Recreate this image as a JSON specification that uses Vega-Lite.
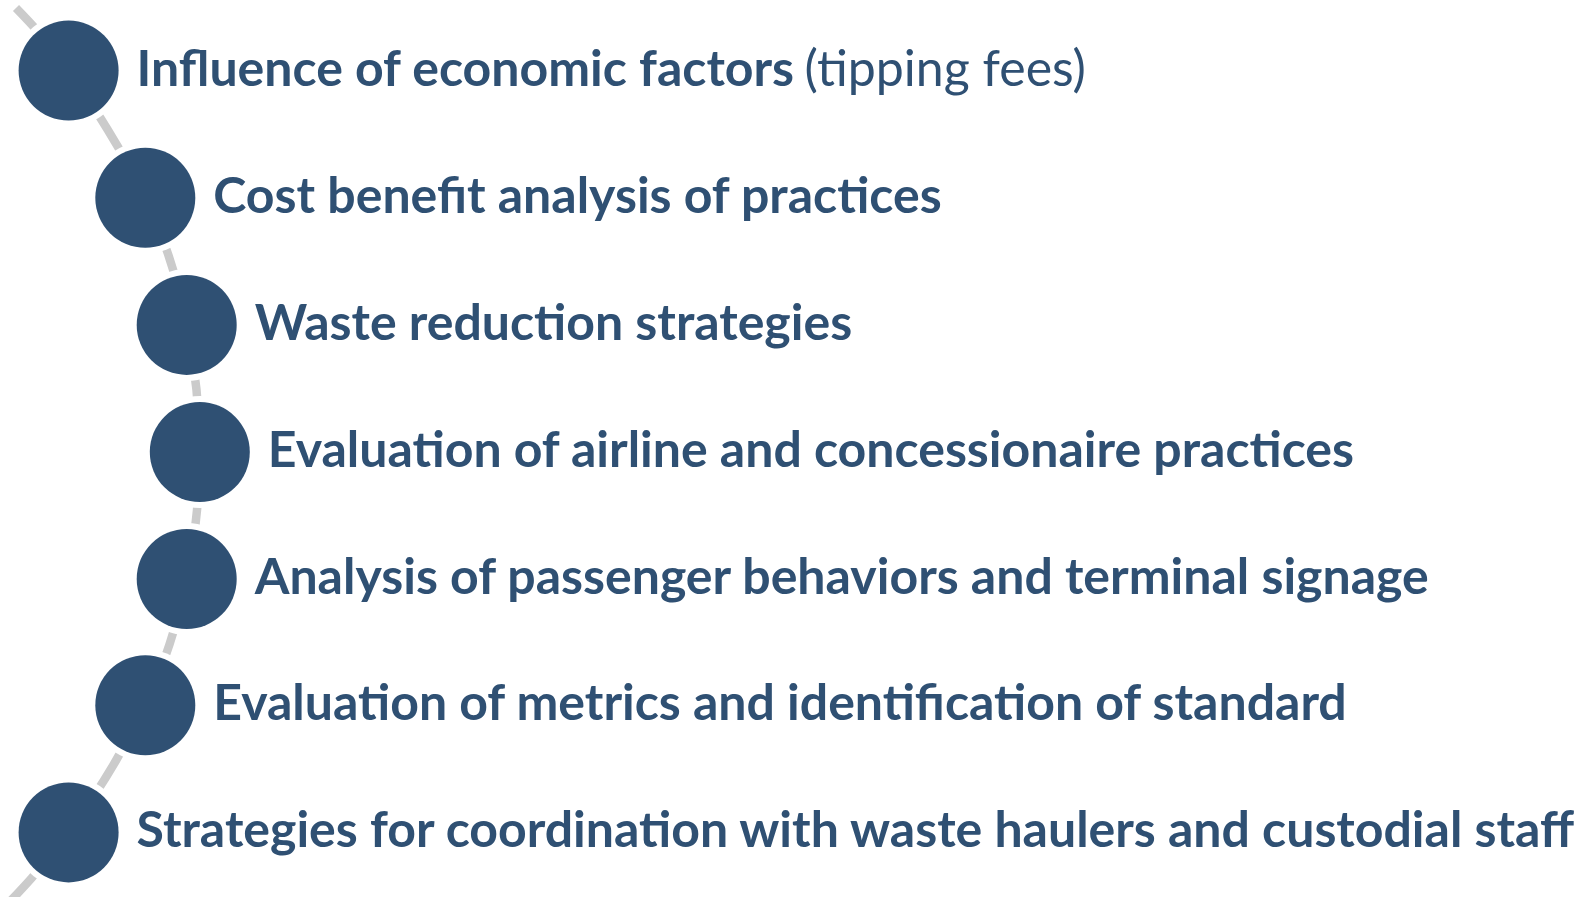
{
  "$schema": "https://vega.github.io/schema/vega-lite/v6.json",
  "width": 1582,
  "height": 897,
  "autosize": {"type": "none"},
  "padding": 0,
  "background": "white",
  "config": {"view": {"stroke": null}},
  "datasets": {
    "path": [
      {"x": 16, "y": 8},
      {"x": 68.6, "y": 70.6},
      {"x": 145.3, "y": 197.8},
      {"x": 186.7, "y": 324.9},
      {"x": 199.8, "y": 452.0},
      {"x": 186.7, "y": 579.0},
      {"x": 145.3, "y": 705.2},
      {"x": 68.6, "y": 832.4},
      {"x": -3, "y": 915}
    ],
    "steps": [
      {"step": 1, "x": 68.6, "y": 70.6, "label": "Influence of economic factors", "note": "(tipping fees)"},
      {"step": 2, "x": 145.3, "y": 197.8, "label": "Cost benefit analysis of practices", "note": ""},
      {"step": 3, "x": 186.7, "y": 324.9, "label": "Waste reduction strategies", "note": ""},
      {"step": 4, "x": 199.8, "y": 452.0, "label": "Evaluation of airline and concessionaire practices", "note": ""},
      {"step": 5, "x": 186.7, "y": 579.0, "label": "Analysis of passenger behaviors and terminal signage", "note": ""},
      {"step": 6, "x": 145.3, "y": 705.2, "label": "Evaluation of metrics and identification of standard", "note": ""},
      {"step": 7, "x": 68.6, "y": 832.4, "label": "Strategies for coordination with waste haulers and custodial staff", "note": ""}
    ]
  },
  "encoding": {
    "x": {"field": "x", "type": "quantitative", "scale": {"domain": [0, 1582], "nice": false, "zero": false}, "axis": null},
    "y": {"field": "y", "type": "quantitative", "scale": {"domain": [0, 897], "nice": false, "zero": false, "reverse": true}, "axis": null}
  },
  "layer": [
    {
      "data": {"name": "path"},
      "mark": {"type": "line", "interpolate": "natural", "stroke": "#CBCBCB", "strokeWidth": 8.5, "strokeCap": "butt", "clip": true},
      "encoding": {"order": {"field": "y", "type": "quantitative"}}
    },
    {
      "data": {"name": "steps"},
      "mark": {"type": "point", "shape": "circle", "filled": true, "size": 12544, "fill": "white", "fillOpacity": 1, "strokeWidth": 0, "opacity": 1}
    },
    {
      "data": {"name": "steps"},
      "mark": {"type": "point", "shape": "circle", "filled": true, "size": 10000, "fill": "#2F5073", "fillOpacity": 1, "strokeWidth": 0, "opacity": 1}
    },
    {
      "data": {"name": "steps"},
      "mark": {"type": "text", "align": "left", "baseline": "alphabetic", "dx": 68, "dy": 15, "font": "Lato", "fontWeight": "bold", "fontSize": 50, "fill": "#2F5073"},
      "encoding": {"text": {"field": "label"}}
    },
    {
      "data": {"name": "steps"},
      "transform": [{"filter": "datum.note != ''"}],
      "mark": {"type": "text", "align": "left", "baseline": "alphabetic", "dx": 736, "dy": 15, "font": "Lato", "fontWeight": "normal", "fontSize": 50, "fill": "#2F5073"},
      "encoding": {"text": {"field": "note"}}
    }
  ]
}
